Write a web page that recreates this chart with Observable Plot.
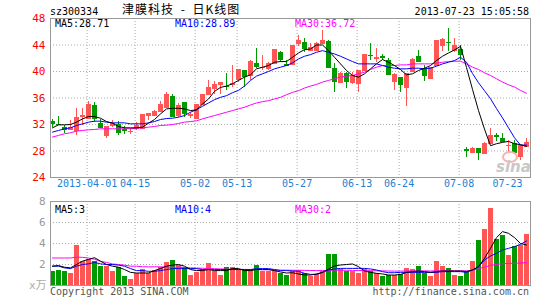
<!DOCTYPE html>
<html><head><meta charset="utf-8">
<script src="https://cdn.jsdelivr.net/npm/d3@7"></script>
<script src="https://cdn.jsdelivr.net/npm/@observablehq/plot@0.6"></script>
<style>
body{margin:0;background:#fff;}
#wrap{position:relative;width:545px;height:300px;overflow:hidden;background:#fff;font-family:"DejaVu Sans Mono",monospace;font-size:10px;}
#wrap svg{position:absolute;left:0;}
.t{position:absolute;line-height:10px;white-space:pre;}
</style></head><body><div id="wrap"></div>
<script>
// ---- data (index 0 = 2013-03-22 ... index 79 = 2013-07-23) ----
const openP = [32.45,32.0,31.55,31.3,31.1,33.2,32.85,34.9,32.2,30.4, 31.85,32.0,31.2,30.95,31.35,31.35,33.35,33.35,34.0,34.6, 36.3,33.35,35.25,33.35,32.95,35.0,36.5,37.5,38.0,37.8, 38.05,38.8,40.15,39.4,41.2,40.6,40.4,41.25,42.9,41.0, 41.05,44.3,44.35,43.2,43.2,44.3,44.55,40.5,38.4,39.65, 38.4,38.15,40.15,42.45,41.95,42.2,41.7,38.55,39.15,37.6, 40.0,42.3,40.5,38.9,40.9,43.9,44.45,43.2,43.3,28.2, 27.8,28.45,27.55,29.1,30.4,29.95,28.8,29.2,27.2,28.75];
const highP = [32.75,33.25,31.85,32.6,34.4,34.35,35.45,35.3,32.75,31.7, 32.6,32.45,31.7,31.35,32.25,33.5,33.65,34.1,35.5,36.9, 36.6,35.1,35.3,33.85,35.0,36.6,38.6,38.5,38.4,39.65, 40.9,40.3,40.15,41.6,43.4,42.4,41.4,43.25,43.05,41.6, 44.0,45.45,44.95,44.3,44.45,46.2,44.7,41.15,39.8,39.9, 39.9,40.15,42.6,44.2,43.4,42.55,41.9,39.65,39.15,39.65, 42.0,43.2,40.9,40.65,44.7,44.95,46.45,44.95,43.9,28.5, 28.55,28.45,29.3,31.45,30.6,30.6,29.6,29.6,28.85,29.85];
const lowP = [31.55,31.8,30.6,31.1,30.35,31.85,32.7,32.35,31.35,29.9, 31.6,30.35,30.5,30.5,31.1,31.2,32.55,33.3,33.85,34.5, 33.2,33.1,33.1,32.85,32.85,34.9,36.4,36.6,36.6,37.15, 37.6,38.4,37.6,38.6,40.4,40.15,40.15,41.0,41.4,40.9, 40.9,43.7,42.9,43.1,43.1,44.2,40.4,36.8,38.3,37.5, 38.0,36.9,40.0,41.7,41.4,41.7,39.4,37.1,36.8,34.7, 39.9,41.4,38.55,38.9,40.9,43.0,43.0,42.9,41.6,27.05, 27.8,26.6,27.4,29.0,29.4,29.35,27.8,27.65,26.6,28.6];
const closeP = [32.2,31.95,31.25,31.55,33.1,33.3,35.0,32.85,31.6,31.7, 32.2,30.85,31.1,31.0,31.85,33.45,33.65,33.9,35.0,36.6, 33.25,34.85,33.6,33.55,34.95,36.5,37.65,38.0,38.4,37.75, 38.15,40.3,39.3,41.55,40.8,40.65,41.15,43.25,41.75,40.95, 44.0,44.65,43.4,43.6,44.2,44.7,40.65,38.5,39.65,38.55, 39.4,40.15,42.6,42.4,42.1,42.1,39.5,39.5,38.0,39.65, 41.75,41.5,39.4,40.65,44.7,44.9,44.4,43.9,42.6,28.15, 28.4,27.7,29.2,30.35,30.2,29.45,28.85,27.7,28.8,29.25];

const ma5P = [31.5,31.95,31.95,32.0,32.35,32.85,33.2,33.2,32.95,32.45, 32.2,31.7,31.5,31.5,31.5,31.6,32.2,32.75,33.6,34.35, 34.45,34.45,34.35,34.1,34.2,35.1,35.85,37.0,37.6,37.8, 38.15,38.65,39.15,39.5,40.4,40.65,40.9,41.4,41.5,41.5, 42.15,42.8,43.3,43.4,44.0,44.0,43.15,42.15,41.15,40.15, 39.4,39.15,39.65,40.4,41.15,41.8,41.4,40.9,40.3,39.5, 39.65,40.15,40.5,40.9,41.65,42.3,42.8,43.25,43.8,40.6, 37.3,34.1,31.3,28.8,29.1,29.3,29.45,29.1,28.95,28.71];
const ma10P = [30.85,31.1,31.35,31.5,31.85,32.1,32.35,32.5,32.5,32.35, 32.25,32.25,32.25,32.1,32.1,32.1,32.25,32.45,32.75,32.9, 32.95,33.1,33.35,33.85,34.25,34.75,35.25,35.75,36.1,36.35, 36.8,37.15,37.8,38.65,39.3,39.65,40.0,40.4,40.65,40.9, 41.3,41.9,42.3,42.55,42.9,43.15,42.9,42.65,42.3,41.9, 41.5,41.15,41.15,41.15,41.15,40.9,40.65,40.5,40.4,40.4, 40.5,40.5,40.4,40.5,40.8,41.15,41.4,41.65,42.15,41.4, 39.7,38.3,37.1,35.9,34.4,33.0,31.5,30.0,28.9,28.89];
const ma30P = [30.1,30.35,30.6,30.75,31.0,31.1,31.2,31.25,31.35,31.35, 31.35,31.35,31.35,31.35,31.45,31.5,31.6,31.7,31.85,31.9, 32.0,32.15,32.35,32.45,32.55,32.85,33.1,33.35,33.6,33.85, 34.1,34.35,34.6,34.95,35.25,35.45,35.6,35.85,36.1,36.5, 36.85,37.1,37.5,37.8,38.05,38.4,38.65,38.9,39.15,39.3, 39.4,39.65,39.9,40.3,40.65,40.9,40.9,40.9,41.0,41.0, 41.15,41.15,41.15,41.15,41.25,41.4,41.5,41.55,41.55,41.15, 40.65,40.3,39.8,39.4,38.9,38.4,38.0,37.65,37.15,36.72];

const volume = [1.29,1.4,1.3,1.1,3.85,2.3,2.5,2.25,1.8,1.8, 1.38,1.75,0.9,0.6,1.15,1.5,1.15,1.42,1.75,2.15, 2.4,1.95,1.7,1.0,1.2,1.5,2.05,1.3,1.0,1.75, 1.75,1.4,1.4,1.5,1.9,1.3,1.3,1.4,1.13,0.97, 1.29,1.42,1.1,0.87,1.03,1.29,2.95,2.95,1.52,1.29, 1.29,1.13,1.5,1.35,1.1,0.87,0.97,0.94,1.03,1.61, 1.52,1.84,1.13,0.87,2.32,1.84,1.61,0.97,0.84,1.3, 2.25,4.25,5.35,7.35,4.35,4.75,2.9,3.75,3.8,4.85];
const ma5V = [1.84,1.9,1.74,1.68,2.0,2.32,2.48,2.65,2.32,2.0, 1.84,1.74,1.52,1.25,1.19,1.19,1.19,1.42,1.61,1.84, 1.94,2.0,1.84,1.52,1.42,1.42,1.52,1.42,1.42,1.42, 1.61,1.61,1.42,1.42,1.52,1.52,1.52,1.42,1.29,1.19, 1.22,1.1,1.0,1.0,1.1,1.25,1.57,1.86,1.95,2.0, 2.05,1.8,1.38,1.25,1.16,1.1,1.0,1.0,1.05,1.25, 1.32,1.38,1.32,1.25,1.32,1.38,1.38,1.38,1.38,1.32, 1.48,1.79,2.59,3.54,4.56,5.13,4.97,4.56,4.0,3.86];
const ma10V = [1.84,1.84,1.68,1.61,1.84,2.0,2.06,2.2,2.06,2.0, 2.0,1.94,1.84,1.61,1.42,1.42,1.35,1.35,1.42,1.52, 1.61,1.61,1.61,1.61,1.61,1.52,1.52,1.52,1.52,1.52, 1.52,1.52,1.52,1.52,1.61,1.61,1.61,1.52,1.42,1.42, 1.38,1.35,1.16,1.06,1.06,1.25,1.48,1.57,1.63,1.63, 1.63,1.63,1.63,1.57,1.48,1.32,1.22,1.22,1.25,1.25, 1.25,1.25,1.25,1.25,1.25,1.32,1.32,1.32,1.32,1.25, 1.48,1.79,2.43,2.81,3.06,3.38,3.54,3.7,3.92,4.24];
const ma30V = [2.62,2.62,2.62,2.62,2.7,2.68,2.62,2.5,2.3,2.2, 2.05,2.0,1.94,1.84,1.84,1.78,1.78,1.78,1.78,1.75, 1.74,1.74,1.72,1.68,1.66,1.64,1.62,1.6,1.58,1.56, 1.55,1.54,1.53,1.52,1.52,1.5,1.5,1.48,1.47,1.46, 1.45,1.45,1.44,1.43,1.42,1.42,1.44,1.46,1.46,1.45, 1.44,1.43,1.42,1.41,1.4,1.39,1.38,1.37,1.37,1.38, 1.38,1.39,1.39,1.38,1.4,1.41,1.42,1.41,1.4,1.4, 1.45,1.6,1.75,1.92,2.0,2.08,2.1,2.12,2.14,2.17];

const tickIdx = [6,14,24,31,41,51,58,68,79];
const tickLabels = ["2013-04-01","04-15","05-02","05-13","05-27","06-13","06-24","07-08","07-23"];
const priceTicks = [24,28,32,36,40,44,48];
const priceGrid = [28,32,36,40,44];
const volTicks = [2,4,6,8];
const volGrid = [2,4,6];

// ---- style ----
const RED = "#ff5555", GREEN = "#009a00", GRID = "#aaa", FRAME = "#999";
const DATEBLUE = "#1d7fd2";
const idx = d3.range(openP.length);
const colorOf = k => closeP[k] >= openP[k] ? RED : GREEN;
const BW = 5/6;
const gridX = tickIdx.slice(0, -1);
const dot = {stroke: GRID, strokeDasharray: "1,2"};

const priceChart = Plot.plot({
  width: 545, height: 195,
  marginLeft: 50, marginRight: 15, marginTop: 18, marginBottom: 18,
  style: {fontFamily: "DejaVu Sans Mono", fontSize: "10px", background: "transparent"},
  x: {domain: [0, 80], axis: null},
  y: {domain: [24, 48], axis: null},
  marks: [
    Plot.ruleY(priceGrid, dot),
    Plot.ruleX(gridX, {x: d => d + 0.1, ...dot}),
    Plot.axisY({ticks: priceTicks, tickSize: 0, tickPadding: 5, fill: "red", fontSize: 11, tickFormat: d => d, label: null}),
    Plot.text(gridX, {x: d => d + 0.1, text: (d, i) => tickLabels[i], frameAnchor: "bottom", dy: 9, fill: DATEBLUE}),
    Plot.text([tickIdx[tickIdx.length - 1]], {x: d => d + BW, text: () => tickLabels[tickLabels.length - 1], frameAnchor: "bottom", dy: 9, dx: -7, textAnchor: "end", fill: DATEBLUE}),
    Plot.ruleX(idx, {x: k => k + 1/3, y1: k => lowP[k], y2: k => highP[k], stroke: colorOf, shapeRendering: "crispEdges"}),
    Plot.rect(idx, {x1: k => k, x2: k => k + BW, y1: k => Math.min(openP[k], closeP[k]), y2: k => Math.max(openP[k], closeP[k]), fill: colorOf, shapeRendering: "crispEdges"}),
    Plot.ruleY(idx, {y: k => closeP[k], x1: k => k, x2: k => k + BW, stroke: colorOf, shapeRendering: "crispEdges"}),
    Plot.ruleY(idx, {y: k => openP[k], x1: k => k, x2: k => k + BW, stroke: colorOf, shapeRendering: "crispEdges"}),
    Plot.line(idx, {x: k => k + 1/3, y: k => ma30P[k], stroke: "#ff00ff", strokeWidth: 1}),
    Plot.line(idx, {x: k => k + 1/3, y: k => ma10P[k], stroke: "#0000ff", strokeWidth: 1}),
    Plot.line(idx, {x: k => k + 1/3, y: k => ma5P[k], stroke: "#000", strokeWidth: 1}),
    Plot.frame({stroke: FRAME})
  ]
});

const volChart = Plot.plot({
  width: 545, height: 105,
  marginLeft: 50, marginRight: 15, marginTop: 6, marginBottom: 15,
  style: {fontFamily: "DejaVu Sans Mono", fontSize: "10px", background: "transparent"},
  x: {domain: [0, 80], axis: null},
  y: {domain: [0, 8], axis: null},
  marks: [
    Plot.ruleY(volGrid, dot),
    Plot.ruleX(gridX, {x: d => d + 0.1, ...dot}),
    Plot.axisY({ticks: volTicks, tickSize: 0, tickPadding: 5, fill: "#999", fontSize: 11, tickFormat: d => d, label: null}),
    Plot.rectY(idx, {x1: k => k, x2: k => k + BW, y: k => volume[k], fill: colorOf, shapeRendering: "crispEdges"}),
    Plot.line(idx, {x: k => k + 1/3, y: k => ma30V[k], stroke: "#ff00ff", strokeWidth: 1}),
    Plot.line(idx, {x: k => k + 1/3, y: k => ma10V[k], stroke: "#0000ff", strokeWidth: 1}),
    Plot.line(idx, {x: k => k + 1/3, y: k => ma5V[k], stroke: "#000", strokeWidth: 1}),
    Plot.frame({stroke: FRAME})
  ]
});

const wrap = document.getElementById("wrap");
priceChart.style.top = "0px";
volChart.style.top = "195px";
wrap.appendChild(priceChart);
wrap.appendChild(volChart);

function label(text, css) {
  const d = document.createElement("div");
  d.className = "t";
  d.textContent = text;
  Object.assign(d.style, css);
  wrap.appendChild(d);
  return d;
}
const last = a => a[a.length - 1];
label("sz300334", {left: "50px", top: "7px", color: "#000"});
label("津膜科技 - 日K线图", {left: "122px", top: "3px", fontFamily: "'Noto Sans CJK SC'", fontSize: "12px", lineHeight: "12px", letterSpacing: "1px", wordSpacing: "3px", color: "#000"});
label("2013-07-23 15:05:58", {right: "16px", top: "7px", color: "#000"});
label("MA5:" + last(ma5P), {left: "55px", top: "19px", color: "#000"});
label("MA10:" + last(ma10P), {left: "175px", top: "19px", color: "#0000ff"});
label("MA30:" + last(ma30P), {left: "295px", top: "19px", color: "#ff00ff"});
label("MA5:" + Math.floor(last(ma5V)), {left: "55px", top: "205px", color: "#000"});
label("MA10:" + Math.floor(last(ma10V)), {left: "175px", top: "205px", color: "#0000ff"});
label("MA30:" + Math.floor(last(ma30V)), {left: "295px", top: "205px", color: "#ff00ff"});
label("x万", {left: "29px", top: "280px", color: "#aaa", fontSize: "11px", lineHeight: "11px", fontFamily: "'DejaVu Sans Mono','Noto Sans CJK SC'"});
label("Copyright 2013 SINA.COM", {left: "50px", top: "287px", color: "#555"});
label("http://finance.sina.com.cn", {right: "16px", top: "287px", color: "#555"});
// sina watermark
const eye = document.createElement("div");
Object.assign(eye.style, {position: "absolute", left: "502px", top: "151px", width: "12px", height: "8px", border: "2px solid #f6b4b4", borderRadius: "50%"});
wrap.appendChild(eye);
label("sina", {left: "496px", top: "160px", color: "#c8c8c8", fontFamily: "'DejaVu Sans'", fontSize: "15px", lineHeight: "15px", fontStyle: "italic", fontWeight: "bold"});
</script></body></html>
